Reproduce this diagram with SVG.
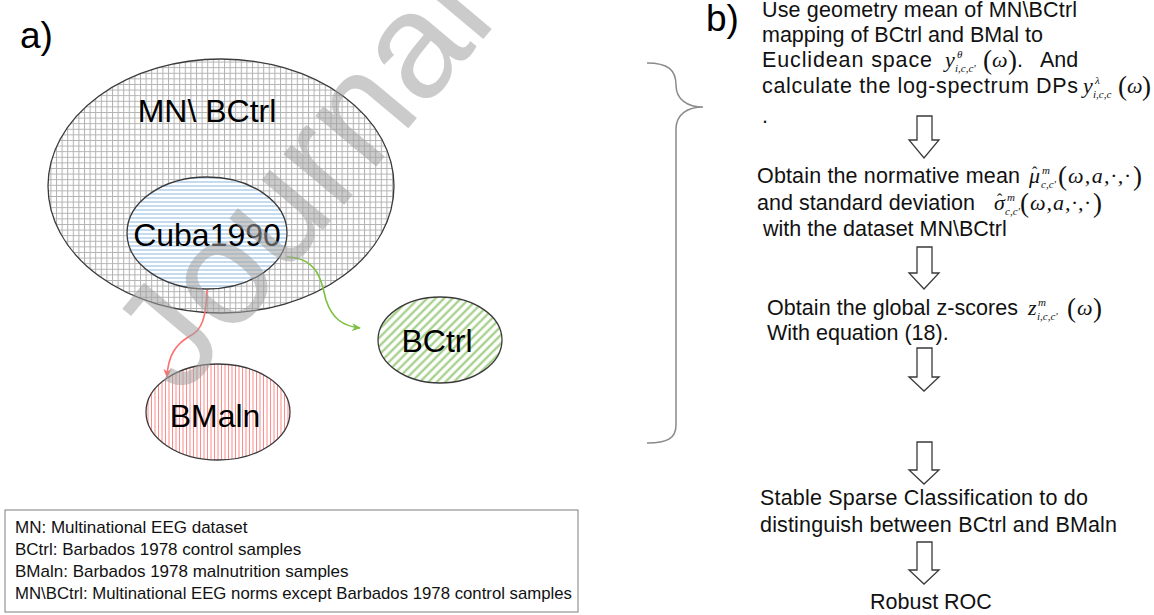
<svg xmlns="http://www.w3.org/2000/svg" width="1154" height="615" viewBox="0 0 1154 615">
<style>
.t{font-family:"Liberation Sans",Arial,sans-serif;font-size:21.5px;fill:#111}
.lbl{font-family:"Liberation Sans",Arial,sans-serif;font-size:32px;fill:#000;text-anchor:middle}
.big{font-family:"Liberation Sans",Arial,sans-serif;font-size:37px;fill:#000}
.lg{font-family:"Liberation Sans",Arial,sans-serif;font-size:17px;fill:#111}
.m{font-family:"Liberation Serif","Times New Roman",serif;font-style:italic;font-size:22px;fill:#111}
.ms{font-family:"Liberation Serif","Times New Roman",serif;font-style:italic;font-size:11px;fill:#111}
.hat{font-family:"Liberation Serif","Times New Roman",serif;font-size:16px;fill:#111}
.p{font-family:"Liberation Serif","Times New Roman",serif;font-size:27px;fill:#111}
.ell{stroke:#3a3a3a;stroke-width:1.3}
.harr{fill:#fff;stroke:#3a3a3a;stroke-width:1.3;stroke-linejoin:miter}
.wm{font-family:"Liberation Sans",Arial,sans-serif;font-size:150px;fill:#a0a0a0;fill-opacity:0.55}
</style>
<defs>
<pattern id="grid" width="5.6" height="5.6" patternUnits="userSpaceOnUse">
<rect width="5.6" height="5.6" fill="#fff"/>
<path d="M0 0.5H5.6M0.5 0V5.6" stroke="#b2b2b2" stroke-width="1"/>
</pattern>
<pattern id="hblue" width="4" height="4" patternUnits="userSpaceOnUse">
<rect width="4" height="4" fill="#fff"/>
<path d="M0 2H4" stroke="#9dc3e6" stroke-width="1.2"/>
</pattern>
<pattern id="dgreen" width="6" height="6" patternUnits="userSpaceOnUse" patternTransform="rotate(-45)">
<rect width="6" height="6" fill="#fff"/>
<path d="M0 3H6" stroke="#a9d18e" stroke-width="2.4"/>
</pattern>
<pattern id="vred" width="7" height="7" patternUnits="userSpaceOnUse">
<rect width="7" height="7" fill="#fff"/>
<path d="M1 0V7M4.5 0V7" stroke="#ff8c8c" stroke-width="1"/>
</pattern>
<marker id="ag" markerWidth="10" markerHeight="10" refX="8" refY="5" orient="auto" markerUnits="userSpaceOnUse">
<path d="M0,1 L9,5 L0,9 L2.5,5 Z" fill="#7cc142"/>
</marker>
<marker id="ar" markerWidth="10" markerHeight="10" refX="8" refY="5" orient="auto" markerUnits="userSpaceOnUse">
<path d="M0,1 L9,5 L0,9 L2.5,5 Z" fill="#ff6f6f"/>
</marker>
</defs>
<rect width="1154" height="615" fill="#fff"/>

<text class="big" x="20" y="48">a)</text>
<text class="big" x="706" y="31">b)</text>

<g id="node-mn">
<ellipse class="ell" cx="221" cy="186" rx="173" ry="127" fill="url(#grid)"/>
<text class="lbl" x="207" y="122">MN\ BCtrl</text>
</g>
<g id="node-cuba">
<ellipse class="ell" cx="207" cy="233" rx="80" ry="56" fill="url(#hblue)"/>
<text class="lbl" x="207" y="246">Cuba1990</text>
</g>
<g id="node-bctrl">
<ellipse class="ell" cx="440" cy="340" rx="62" ry="43" fill="url(#dgreen)"/>
<text class="lbl" x="437" y="352">BCtrl</text>
</g>
<g id="node-bmaln">
<ellipse class="ell" cx="218" cy="412" rx="72" ry="48" fill="url(#vred)"/>
<text class="lbl" x="215" y="427">BMaln</text>
</g>

<g id="connectors" fill="none">
<path d="M287,257 C320,258 322,285 326,300 C332,318 342,326 360,328" stroke="#7cc142" stroke-width="1.6" marker-end="url(#ag)"/>
<path d="M207,290 C206,318 202,330 190,336 C176,344 168,355 167,377" stroke="#ff6f6f" stroke-width="1.6" marker-end="url(#ar)"/>
</g>

<g id="brace">
<path d="M647,63 C668,63 676,70 676,85 C676,100 688,107 703,107 C688,107 676,114 676,129 L676,425 C676,438 668,443 647,443" fill="none" stroke="#8a8a8a" stroke-width="1.5"/>
</g>

<g id="legend">
<rect x="5" y="510" width="573" height="102" fill="#fff" stroke="#7f7f7f" stroke-width="1"/>
<text class="lg" x="15" y="533">MN: Multinational EEG dataset</text>
<text class="lg" x="15" y="555">BCtrl: Barbados 1978 control samples</text>
<text class="lg" x="15" y="577">BMaln: Barbados 1978 malnutrition samples</text>
<text class="lg" x="15" y="599" textLength="557" lengthAdjust="spacingAndGlyphs">MN\BCtrl: Multinational EEG norms except Barbados 1978 control samples</text>
</g>

<g id="step1">
<text class="t" x="762" y="17" textLength="315" lengthAdjust="spacing">Use geometry mean of MN\BCtrl</text>
<text class="t" x="762" y="42">mapping of BCtrl and BMal to</text>
<text class="t" x="762" y="67" textLength="170" lengthAdjust="spacing">Euclidean space</text>
<text class="m" x="945" y="67">y</text>
<text class="ms" x="957" y="58" font-style="normal">θ</text>
<text class="ms" x="955" y="72">i,c,c'</text>
<text class="p" x="983" y="69">(</text>
<text class="m" x="992" y="67">ω</text>
<text class="p" x="1008" y="69">)</text>
<text class="t" x="1017" y="67">.</text>
<text class="t" x="1040" y="67">And</text>
<text class="t" x="762" y="93" textLength="316" lengthAdjust="spacing">calculate the log-spectrum DPs</text>
<text class="m" x="1083" y="93">y</text>
<text class="ms" x="1095" y="84" font-style="normal">λ</text>
<text class="ms" x="1093" y="98">i,c,c</text>
<text class="p" x="1118" y="95">(</text>
<text class="m" x="1127" y="93">ω</text>
<text class="p" x="1142" y="95">)</text>
<text class="t" x="762" y="123">.</text>
</g>

<g id="arrow1"><path class="harr" d="M917,116 H932 V140 H939 L924,158 L909,140 H917 Z"/></g>

<g id="step2">
<text class="t" x="757" y="183" textLength="263" lengthAdjust="spacing">Obtain the normative mean</text>
<text class="m" x="1029" y="183">μ</text>
<text class="hat" x="1032" y="178">ˆ</text>
<text class="ms" x="1042" y="174">m</text>
<text class="ms" x="1041" y="188">c,c'</text>
<text class="p" x="1058" y="185">(</text>
<text class="m" x="1068" y="183" textLength="62" lengthAdjust="spacing">ω,a,·,·</text>
<text class="p" x="1133" y="185">)</text>
<text class="t" x="757" y="210" textLength="218" lengthAdjust="spacing">and standard deviation</text>
<text class="m" x="994" y="210">σ</text>
<text class="hat" x="997" y="205">ˆ</text>
<text class="ms" x="1007" y="201">m</text>
<text class="ms" x="1005" y="215">c,c'</text>
<text class="p" x="1020" y="212">(</text>
<text class="m" x="1030" y="210" textLength="60" lengthAdjust="spacing">ω,a,·,·</text>
<text class="p" x="1093" y="212">)</text>
<text class="t" x="763" y="236">with the dataset MN\BCtrl</text>
</g>

<g id="arrow2"><path class="harr" d="M917,247 H932 V273 H939 L924,289 L909,273 H917 Z"/></g>

<g id="step3">
<text class="t" x="767" y="315" textLength="251" lengthAdjust="spacing">Obtain the global z-scores</text>
<text class="m" x="1028" y="315">z</text>
<text class="ms" x="1038" y="306">m</text>
<text class="ms" x="1037" y="320">i,c,c'</text>
<text class="p" x="1067" y="317">(</text>
<text class="m" x="1077" y="315">ω</text>
<text class="p" x="1093" y="317">)</text>
<text class="t" x="767" y="340">With equation (18).</text>
</g>

<g id="arrow3"><path class="harr" d="M917,348 H932 V377 H939 L924,391 L909,377 H917 Z"/></g>
<g id="arrow4"><path class="harr" d="M917,442 H932 V470 H939 L924,484 L909,470 H917 Z"/></g>

<g id="step4">
<text class="t" x="760" y="505" textLength="328" lengthAdjust="spacing">Stable Sparse Classification to do</text>
<text class="t" x="760" y="532" textLength="357" lengthAdjust="spacing">distinguish between BCtrl and BMaln</text>
</g>

<g id="arrow5"><path class="harr" d="M917,542 H932 V570 H939 L924,584 L909,570 H917 Z"/></g>

<g id="step5">
<text class="t" x="870" y="609">Robust ROC</text>
</g>

<text class="wm" x="182" y="398" transform="rotate(-50 182 398)">Journal</text>
</svg>
